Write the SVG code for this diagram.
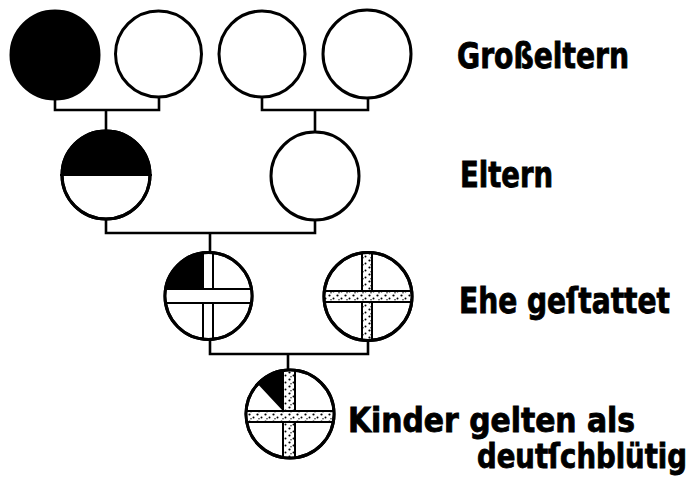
<svg xmlns="http://www.w3.org/2000/svg" width="693" height="482" viewBox="0 0 693 482">
<style>
.c{fill:#fff;stroke:#000;stroke-width:3}
.k{fill:#000}
.bar{stroke:#000;stroke-width:2}
.w{fill:#fff}
.s{fill:url(#stip)}
.ln{fill:none;stroke:#000;stroke-width:2.6}
.t{font-family:"DejaVu Sans Condensed","DejaVu Sans",sans-serif;font-weight:bold;font-size:35px;fill:#000;stroke:#000;stroke-width:0.8}
</style>
<defs>
<pattern id="stip" width="8" height="7" patternUnits="userSpaceOnUse">
<rect width="8" height="7" fill="#fff"/>
<circle cx="1.5" cy="1.5" r="1.1" fill="#000"/>
<circle cx="5.5" cy="4.5" r="1" fill="#000"/>
<circle cx="3" cy="5.8" r="0.7" fill="#000"/>
</pattern>
<clipPath id="cA"><circle cx="208.5" cy="296" r="43.5"/></clipPath>
<clipPath id="cB"><circle cx="368" cy="296.5" r="44"/></clipPath>
<clipPath id="cC"><circle cx="290" cy="414" r="44"/></clipPath>
<clipPath id="cP"><circle cx="106" cy="175" r="44"/></clipPath>
</defs>
<rect width="693" height="482" fill="#fff"/>
<g id="connectors">
<path class="ln" d="M55,97 V110 H159 V96 M106,110 V131"/>
<path class="ln" d="M262,96 V110 H368 V97 M315,110 V132"/>
<path class="ln" d="M106,219 V233 H315 V220 M210,233 V253"/>
<path class="ln" d="M210,339 V354 H368 V340 M288,354 V370"/>
</g>
<g id="grandparent1"><circle class="c" cx="55" cy="55" r="44" style="fill:#000"/></g>
<g id="grandparent2"><circle class="c" cx="158.5" cy="54" r="43"/></g>
<g id="grandparent3"><circle class="c" cx="262" cy="54" r="43"/></g>
<g id="grandparent4"><circle class="c" cx="367" cy="54" r="44"/></g>
<g id="parent1">
<circle class="c" cx="106" cy="175" r="44"/>
<rect class="k" x="60" y="129" width="92" height="46" clip-path="url(#cP)"/>
<line x1="60" y1="175" x2="152" y2="175" stroke="#000" stroke-width="2"/>
<circle cx="106" cy="175" r="44" fill="none" stroke="#000" stroke-width="3"/>
</g>
<g id="parent2"><circle class="c" cx="315" cy="176" r="44"/></g>
<g id="marriageA">
<circle class="c" cx="208.5" cy="296" r="43.5"/>
<g clip-path="url(#cA)">
<rect class="k" x="160" y="248" width="43" height="41"/>
<rect class="bar w" x="203" y="248" width="10" height="100"/>
<rect class="bar w" x="160" y="289" width="100" height="14"/>
<rect class="w" x="204" y="290" width="8" height="12"/>
</g>
<circle cx="208.5" cy="296" r="43.5" fill="none" stroke="#000" stroke-width="3"/>
</g>
<g id="marriageB">
<circle class="c" cx="368" cy="296.5" r="44"/>
<g clip-path="url(#cB)">
<rect class="bar s" x="362" y="248" width="10" height="100"/>
<rect class="bar s" x="320" y="291" width="100" height="11"/>
<rect class="s" x="363" y="292" width="8" height="9"/>
</g>
<circle cx="368" cy="296.5" r="44" fill="none" stroke="#000" stroke-width="3"/>
</g>
<g id="child">
<circle class="c" cx="290" cy="414" r="44"/>
<g clip-path="url(#cC)">
<polygon class="k" points="283,411 241,366 283,366"/>
<rect class="bar s" x="283" y="366" width="12" height="100"/>
<rect class="bar s" x="242" y="411" width="100" height="11"/>
<rect class="s" x="284" y="412" width="10" height="9"/>
</g>
<circle cx="290" cy="414" r="44" fill="none" stroke="#000" stroke-width="3"/>
</g>
<g id="labels">
<text class="t" x="457" y="68" textLength="172" lengthAdjust="spacingAndGlyphs">Großeltern</text>
<text class="t" x="460" y="187" textLength="93" lengthAdjust="spacingAndGlyphs">Eltern</text>
<text class="t" x="459" y="313" textLength="211" lengthAdjust="spacingAndGlyphs">Ehe geſtattet</text>
<text class="t" x="348" y="432" style="font-size:33px" textLength="287" lengthAdjust="spacingAndGlyphs">Kinder gelten als</text>
<text class="t" x="477" y="468" style="font-size:33px" textLength="210" lengthAdjust="spacingAndGlyphs">deutſchblütig</text>
</g>
</svg>
